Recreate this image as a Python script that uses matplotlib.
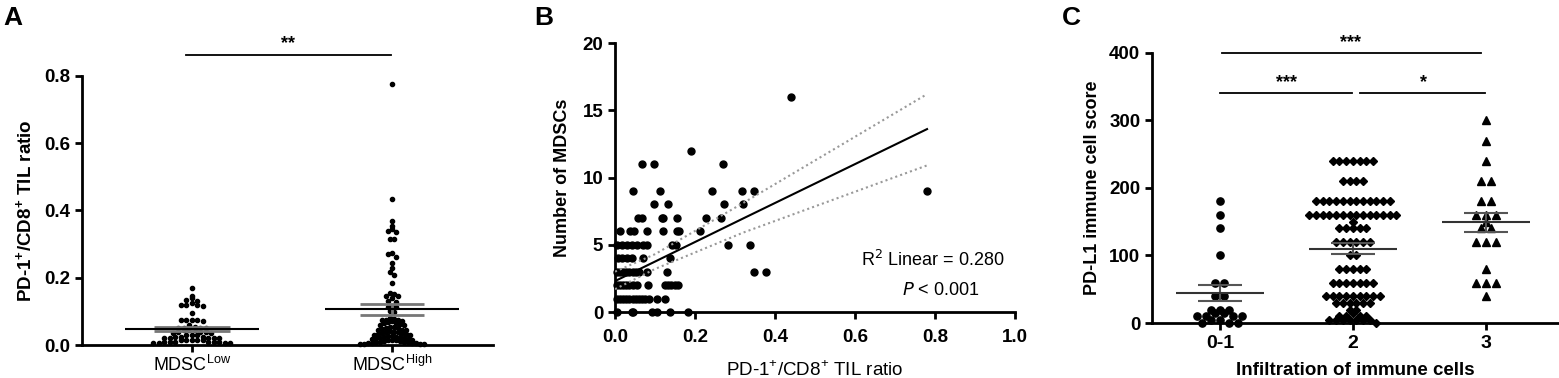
import matplotlib
matplotlib.use('Agg')
import matplotlib.pyplot as plt
import numpy as np

plt.rcParams['font.family'] = ['Liberation Sans', 'DejaVu Sans']

# ---- Panel A: PD-1+/CD8+ TIL ratio by MDSC group
a_groups = ['MDSC$^{\\mathregular{Low}}$', 'MDSC$^{\\mathregular{High}}$']
a_low = [0.17, 0.145, 0.14, 0.135, 0.13, 0.125, 0.12, 0.12, 0.12, 0.115, 0.095,
         0.075, 0.075, 0.075, 0.075, 0.07, 0.06, 0.055, 0.05, 0.05, 0.05, 0.05,
         0.045, 0.045, 0.045, 0.04, 0.04, 0.04, 0.035, 0.035, 0.03, 0.03, 0.03,
         0.025, 0.025, 0.025, 0.02, 0.02, 0.02, 0.02, 0.02, 0.015, 0.015, 0.015,
         0.015, 0.015, 0.01, 0.01, 0.01, 0.01, 0.01, 0.01, 0.005, 0.005, 0.005, 0.005]
a_high = [0.775, 0.435, 0.37, 0.355, 0.345, 0.34, 0.335, 0.315, 0.315, 0.275, 0.27,
          0.262, 0.243, 0.228, 0.218, 0.208, 0.183, 0.155, 0.153, 0.147, 0.145,
          0.139, 0.13, 0.128, 0.116, 0.114, 0.112, 0.1, 0.097, 0.08, 0.078, 0.075,
          0.075, 0.074, 0.072, 0.07, 0.068, 0.065, 0.064, 0.062, 0.06, 0.058, 0.055,
          0.053, 0.052, 0.05, 0.048, 0.046, 0.045, 0.044, 0.042, 0.04, 0.039, 0.038,
          0.036, 0.035, 0.034, 0.032, 0.03, 0.03, 0.028, 0.027, 0.025, 0.025, 0.024,
          0.022, 0.02, 0.02, 0.019, 0.018, 0.016, 0.015, 0.015, 0.014, 0.012, 0.011,
          0.01, 0.01, 0.009, 0.008, 0.007, 0.006, 0.005, 0.005, 0.004, 0.003, 0.002, 0.002]
a_mean = [0.048, 0.106]
a_sem = [0.005, 0.016]

# ---- Panel B: Number of MDSCs vs PD-1+/CD8+ TIL ratio
b_rows = {
    16: [0.44],
    12: [0.19],
    11: [0.068, 0.097, 0.27],
    9: [0.044, 0.113, 0.243, 0.318, 0.348, 0.78],
    8: [0.098, 0.133, 0.273, 0.32],
    7: [0.057, 0.067, 0.117, 0.12, 0.154, 0.227, 0.264],
    6: [0.0125, 0.0375, 0.048, 0.079, 0.121, 0.154, 0.16, 0.213],
    5: [0.005, 0.017, 0.029, 0.042, 0.054, 0.071, 0.08, 0.143, 0.152, 0.282, 0.338],
    4: [0.008, 0.017, 0.029, 0.042, 0.071, 0.1375],
    3: [0.004, 0.012, 0.02, 0.028, 0.036, 0.044, 0.052, 0.06, 0.079, 0.129, 0.348, 0.377],
    2: [0.004, 0.012, 0.02, 0.028, 0.036, 0.044, 0.054, 0.083, 0.125, 0.133, 0.141, 0.15, 0.158],
    1: [0.004, 0.012, 0.02, 0.028, 0.036, 0.044, 0.052, 0.06, 0.068, 0.076, 0.084, 0.104, 0.125],
    0: [0.006, 0.042, 0.046, 0.092, 0.104, 0.1375, 0.183],
}
b_x = [x for y, row in b_rows.items() for x in row]
b_y = [y for y, row in b_rows.items() for x in row]
# fitted line and 95% band as drawn in the figure
b_fit_x = [0.0, 0.1, 0.32, 0.78]
b_fit_y = [2.3, 3.75, 6.95, 13.6]
b_upper = [3.0, 4.3, 8.1, 16.2]
b_lower = [1.7, 3.2, 5.9, 10.9]
b_text1 = 'R$^{2}$ Linear = 0.280'
b_text2 = '$\\it{P}$ < 0.001'

# ---- Panel C: PD-L1 immune cell score by infiltration
c_groups = ['0-1', '2', '3']
c_g1 = [180, 160, 140, 100, 60, 60, 40, 40, 20, 20, 20, 15, 15, 10, 10, 10, 10,
        5, 5, 0, 0, 0]
c_g2 = [240] * 7 + [210] * 4 + [180] * 12 + [160] * 14 + [150] + [140] * 5 + \
       [120] * 6 + [100] * 2 + [80] * 5 + [60] * 7 + [40] * 9 + [30] * 6 + \
       [20] * 2 + [15] + [10] * 4 + [5] * 7 + [0]
c_g3 = [300, 270, 240, 210, 210, 180, 180, 160, 160, 160, 150, 140, 140,
        120, 120, 120, 80, 60, 60, 60, 40]
c_mean = [44, 110, 149]
c_sem = [12, 8, 14.5]


def binned_swarm(ax, center, values, h, step):
    # group points into horizontal rows (pixel space), spread each row around the center
    pts = ax.transData.transform(np.column_stack([np.full(len(values), center), values]))
    ys = pts[:, 1]
    order = np.argsort(ys, kind='stable')
    rows, cur, start = [], [order[0]], ys[order[0]]
    for i in order[1:]:
        if ys[i] - start < h:
            cur.append(i)
        else:
            rows.append(cur)
            cur, start = [i], ys[i]
    rows.append(cur)
    offs = np.zeros(len(values))
    for r in rows:
        m = len(r)
        slots = sorted([(k - (m - 1) / 2) * step for k in range(m)], key=abs)
        r_sorted = sorted(r, key=lambda j: -ys[j])
        for j, s in zip(r_sorted, slots):
            offs[j] = s
    xy = ax.transData.inverted().transform(np.column_stack([pts[:, 0] + offs, ys]))
    return xy[:, 0]


def style(ax):
    for s in ['top', 'right']:
        ax.spines[s].set_visible(False)
    for s in ['left', 'bottom']:
        ax.spines[s].set_linewidth(2)
    ax.tick_params(width=2, length=5, direction='out')


fig = plt.figure(figsize=(15.59, 3.78), dpi=100)

# Panel A
ax1 = fig.add_axes([0.0526, 0.0873, 0.2636, 0.7117])
ax1.set_xlim(-0.55, 1.505)
ax1.set_ylim(0, 0.8)
style(ax1)
a_steps = [5.5, 4.0]
for i, vals in enumerate([a_low, a_high]):
    xs = binned_swarm(ax1, i, vals, 4.5, a_steps[i])
    ax1.plot(xs, vals, 'o', color='black', markersize=3.0, clip_on=False, zorder=3)
    sem_w = 0.19 if i == 0 else 0.16
    ax1.hlines([a_mean[i] - a_sem[i], a_mean[i] + a_sem[i]], i - sem_w, i + sem_w,
               color='#777777', lw=2, zorder=4)
    ax1.vlines(i, a_mean[i] - a_sem[i], a_mean[i] + a_sem[i], color='#777777', lw=2, zorder=4)
    ax1.hlines(a_mean[i], i - 0.335, i + 0.335, color='black', lw=1.5, zorder=5)
ax1.set_xticks([0, 1])
ax1.set_xticklabels(a_groups, fontsize=13)
ax1.tick_params(axis='x', pad=2)
ax1.set_yticks([0, 0.2, 0.4, 0.6, 0.8])
ax1.set_yticklabels(['0.0', '0.2', '0.4', '0.6', '0.8'], fontsize=13.5, fontweight='bold')
ax1.set_ylabel('PD-1$^{\\mathregular{+}}$/CD8$^{\\mathregular{+}}$ TIL ratio',
               fontsize=13.5, fontweight='bold', labelpad=6)
ax1.plot([-0.03, 0.995], [0.862, 0.862], color='black', lw=1.3, clip_on=False)
ax1.text(0.48, 0.872, '**', ha='center', va='bottom', fontsize=13, fontweight='bold', clip_on=False)

# Panel B
ax2 = fig.add_axes([0.3945, 0.1746, 0.2566, 0.7116])
ax2.set_xlim(0, 1.0)
ax2.set_ylim(0, 20)
style(ax2)
ax2.plot(b_x, b_y, 'o', color='black', markersize=5, clip_on=False, zorder=3)
ax2.plot(b_fit_x, b_fit_y, color='black', lw=1.5, zorder=4)
ax2.plot(b_fit_x, b_upper, color='#999999', lw=1.5, ls=(0, (1, 1.5)), zorder=4)
ax2.plot(b_fit_x, b_lower, color='#999999', lw=1.5, ls=(0, (1, 1.5)), zorder=4)
ax2.set_xticks([0, 0.2, 0.4, 0.6, 0.8, 1.0])
ax2.set_xticklabels(['0.0', '0.2', '0.4', '0.6', '0.8', '1.0'], fontsize=13.5, fontweight='bold')
ax2.tick_params(axis='x', pad=7)
ax2.set_yticks([0, 5, 10, 15, 20])
ax2.set_yticklabels(['0', '5', '10', '15', '20'], fontsize=13.5, fontweight='bold')
ax2.set_ylabel('Number of MDSCs', fontsize=13, fontweight='bold', labelpad=8)
ax2.set_xlabel('PD-1$^{\\mathregular{+}}$/CD8$^{\\mathregular{+}}$ TIL ratio', fontsize=13.5, labelpad=11)
ax2.text(0.975, 3.85, b_text1, ha='right', va='center', fontsize=13)
ax2.text(0.815, 1.6, b_text2, ha='center', va='center', fontsize=13)

# Panel C
ax3 = fig.add_axes([0.739, 0.1455, 0.261, 0.7143])
ax3.set_xlim(-0.51, 2.55)
ax3.set_ylim(0, 400)
style(ax3)
markers = ['o', 'D', '^']
msizes = [5.2, 4.0, 5.2]
steps = [9.0, 6.7, 10.0]
for i, vals in enumerate([c_g1, c_g2, c_g3]):
    xs = binned_swarm(ax3, i, vals, 6.0, steps[i])
    ax3.plot(xs, vals, markers[i], color='black', markersize=msizes[i], clip_on=False, zorder=3)
    ax3.hlines([c_mean[i] - c_sem[i], c_mean[i] + c_sem[i]], i - 0.165, i + 0.165,
               color='#555555', lw=1.5, zorder=4)
    ax3.vlines(i, c_mean[i] - c_sem[i], c_mean[i] + c_sem[i], color='#555555', lw=1.5, zorder=4)
    ax3.hlines(c_mean[i], i - 0.33, i + 0.33, color='#333333', lw=1.5, zorder=5)
ax3.set_xticks([0, 1, 2])
ax3.set_xticklabels(c_groups, fontsize=14, fontweight='bold')
ax3.set_yticks([0, 100, 200, 300, 400])
ax3.set_yticklabels(['0', '100', '200', '300', '400'], fontsize=13.5, fontweight='bold')
ax3.set_ylabel('PD-L1 immune cell score', fontsize=13, fontweight='bold', labelpad=6)
ax3.set_xlabel('Infiltration of immune cells', fontsize=13.5, fontweight='bold', labelpad=7)
ax3.plot([0.015, 1.96], [400, 400], color='black', lw=1.3, clip_on=False)
ax3.plot([0.0, 0.99], [340, 340], color='black', lw=1.3, clip_on=False)
ax3.plot([1.05, 1.99], [340, 340], color='black', lw=1.3, clip_on=False)
ax3.text(0.98, 403, '***', ha='center', va='bottom', fontsize=13, fontweight='bold', clip_on=False)
ax3.text(0.5, 343, '***', ha='center', va='bottom', fontsize=13, fontweight='bold')
ax3.text(1.53, 343, '*', ha='center', va='bottom', fontsize=13, fontweight='bold')

# panel letters
for x, lab in [(0.002, 'A'), (0.343, 'B'), (0.681, 'C')]:
    fig.text(x, 0.985, lab, ha='left', va='top', fontsize=19, fontweight='bold')

fig.savefig('out.png', dpi=100, facecolor='white')
